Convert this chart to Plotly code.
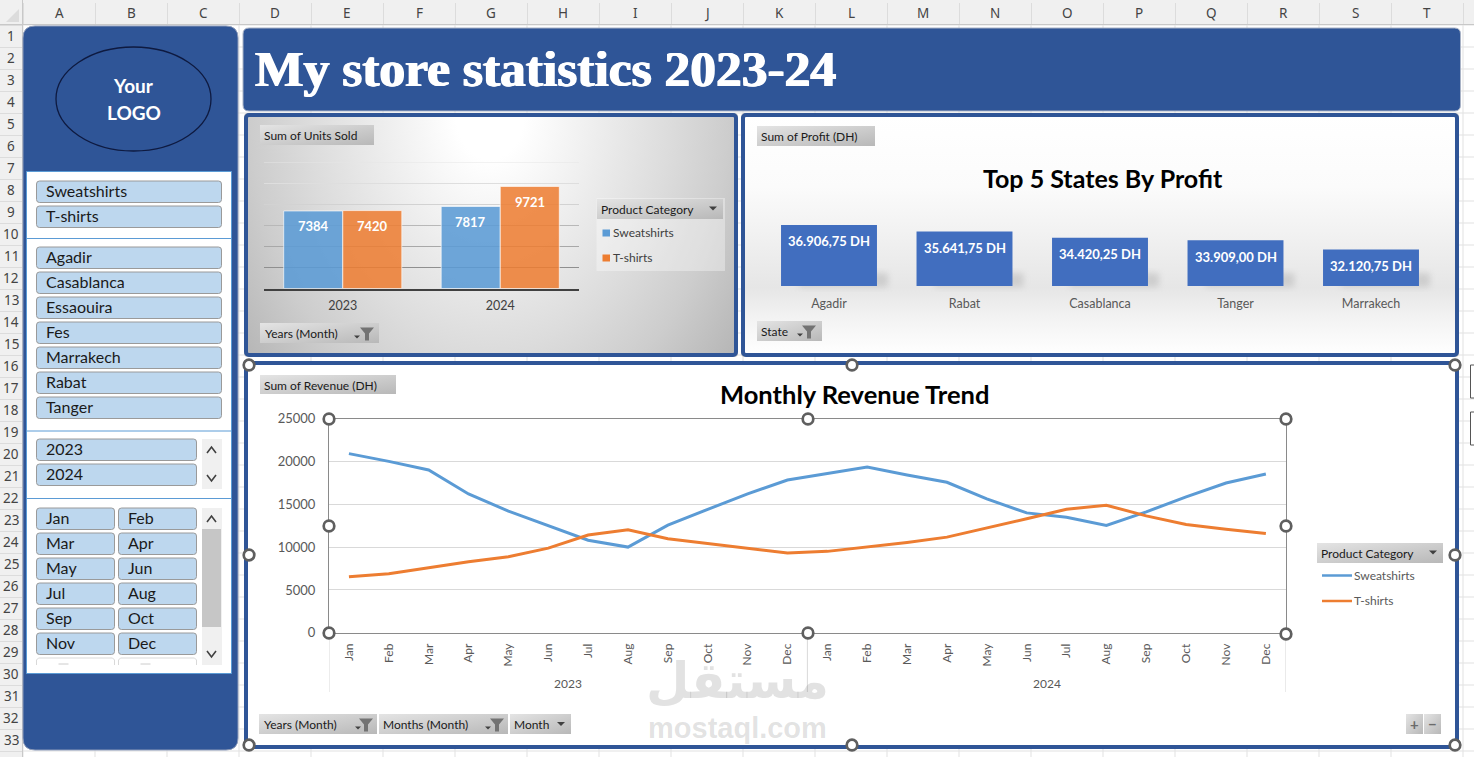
import base64
import plotly.graph_objects as go

# ---------- data ----------
years = ["2023", "2024"]
categories = ["Sweatshirts", "T-shirts"]
units_sweatshirts = [7384, 7817]
units_tshirts = [7420, 9721]

states = ["Agadir", "Rabat", "Casablanca", "Tanger", "Marrakech"]
profit = [36906.75, 35641.75, 34420.25, 33909.00, 32120.75]
profit_labels = ["36.906,75 DH", "35.641,75 DH", "34.420,25 DH", "33.909,00 DH", "32.120,75 DH"]

months = ["Jan", "Feb", "Mar", "Apr", "May", "Jun", "Jul", "Aug", "Sep", "Oct", "Nov", "Dec"]
revenue_sweatshirts = [20900, 20000, 19000, 16200, 14200, 12500, 10800, 10000, 12560, 14400, 16200, 17830,
                       18570, 19340, 18410, 17560, 15620, 13990, 13490, 12520, 14110, 15850, 17480, 18530]
revenue_tshirts = [6550, 6900, 7600, 8290, 8880, 9880, 11400, 12020, 10970, 10390, 9880, 9300,
                   9500, 10000, 10540, 11160, 12210, 13300, 14420, 14880, 13640, 12640, 12090, 11590]

slicer_products = ["Sweatshirts", "T-shirts"]
slicer_states = ["Agadir", "Casablanca", "Essaouira", "Fes", "Marrakech", "Rabat", "Tanger"]
column_letters = list("ABCDEFGHIJKLMNOPQRST")

# ---------- canvas helpers (pixel space) ----------
W, H = 1474, 757
NAVY = "#2F5597"
BLUE = "#5B9BD5"
ORANGE = "#ED7D31"
FONT = "Lato"


def px(x):
    return x / W


def py(y):
    return 1 - y / H


shapes = []
annotations = []


def rrect_path(x0, y0, x1, y1, r):
    X0, X1, Y0, Y1 = px(x0), px(x1), py(y0), py(y1)
    rx, ry = r / W, r / H
    return (f"M{X0+rx},{Y0} L{X1-rx},{Y0} Q{X1},{Y0} {X1},{Y0-ry} L{X1},{Y1+ry} Q{X1},{Y1} {X1-rx},{Y1} "
            f"L{X0+rx},{Y1} Q{X0},{Y1} {X0},{Y1+ry} L{X0},{Y0-ry} Q{X0},{Y0} {X0+rx},{Y0} Z")


def rrect(x0, y0, x1, y1, r, fill, line=None, lw=1, layer="below"):
    shapes.append(dict(type="path", xref="paper", yref="paper", path=rrect_path(x0, y0, x1, y1, r),
                       fillcolor=fill, line=dict(color=line or "rgba(0,0,0,0)", width=lw if line else 0), layer=layer))


def rect(x0, y0, x1, y1, fill, line=None, lw=1, layer="below"):
    shapes.append(dict(type="rect", xref="paper", yref="paper", x0=px(x0), x1=px(x1), y0=py(y0), y1=py(y1),
                       fillcolor=fill, line=dict(color=line or "rgba(0,0,0,0)", width=lw if line else 0), layer=layer))


def hline(x0, x1, y, color, lw=1, layer="below"):
    shapes.append(dict(type="line", xref="paper", yref="paper", x0=px(x0), x1=px(x1), y0=py(y), y1=py(y),
                       line=dict(color=color, width=lw), layer=layer))


def poly(points, fill=None, line=None, lw=1, layer="below", close=True):
    d = "M" + " L".join(f"{px(a)},{py(b)}" for a, b in points) + (" Z" if close else "")
    shapes.append(dict(type="path", xref="paper", yref="paper", path=d, fillcolor=fill or "rgba(0,0,0,0)",
                       line=dict(color=line or "rgba(0,0,0,0)", width=lw if line else 0), layer=layer))


def circle(cx, cy, rx, ry, fill, line, lw, layer="below"):
    shapes.append(dict(type="circle", xref="paper", yref="paper", x0=px(cx - rx), x1=px(cx + rx),
                       y0=py(cy - ry), y1=py(cy + ry), fillcolor=fill, line=dict(color=line, width=lw), layer=layer))


def text(s, x, y, size=12, color="#404040", anchor="left", font=FONT, bold=False, angle=0, shadow=None):
    f = dict(family=font, size=size, color=color)
    if shadow:
        f["shadow"] = shadow
    annotations.append(dict(text=f"<b>{s}</b>" if bold else s, x=px(x), y=py(y), xref="paper", yref="paper",
                            xanchor=anchor, yanchor="middle", showarrow=False, textangle=angle, borderpad=0, borderwidth=0,
                            font=f))


# ---------- background picture: sheet grid, panel fills, field buttons ----------
svg = [f'<svg xmlns="http://www.w3.org/2000/svg" width="{W}" height="{H}" viewBox="0 0 {W} {H}">',
       '<defs>',
       '<radialGradient id="p1" gradientUnits="userSpaceOnUse" cx="0" cy="0" r="340" '
       'gradientTransform="translate(490 115) scale(1 1.3)">'
       '<stop offset="0.1" stop-color="#ffffff"/><stop offset="0.53" stop-color="#dcdcdc"/>'
       '<stop offset="0.7" stop-color="#cdcdcd"/><stop offset="0.88" stop-color="#b8b8b8"/>'
       '<stop offset="1" stop-color="#b0b0b0"/></radialGradient>',
       '<linearGradient id="p2" x1="0" y1="0" x2="0" y2="1">'
       '<stop offset="0" stop-color="#ffffff"/><stop offset="0.3" stop-color="#fbfbfb"/>'
       '<stop offset="0.72" stop-color="#e6e6e6"/><stop offset="0.86" stop-color="#f4f4f4"/>'
       '<stop offset="1" stop-color="#ffffff"/></linearGradient>',
       '<linearGradient id="fb" x1="0" y1="0" x2="1" y2="1">'
       '<stop offset="0" stop-color="#e4e4e4"/><stop offset="1" stop-color="#b8b8b8"/></linearGradient>',
       '<filter id="blur" x="-30%" y="-30%" width="160%" height="160%"><feGaussianBlur stdDeviation="3"/></filter>',
       '</defs>',
       f'<rect width="{W}" height="{H}" fill="#ffffff"/>']
for i in range(0, 22):
    svg.append(f'<rect x="{23 + i * 72 - 0.5}" y="25" width="1" height="{H}" fill="#e1e1e1"/>')
for j in range(0, 34):
    svg.append(f'<rect x="23" y="{25 + j * 22 - 0.5}" width="{W}" height="1" fill="#e1e1e1"/>')
svg.append(f'<rect width="{W}" height="25" fill="#f0f0f0"/><rect width="23" height="{H}" fill="#f0f0f0"/>')
svg.append(f'<rect y="24" width="{W}" height="1" fill="#c8c8c8"/><rect x="22" width="1" height="{H}" fill="#c8c8c8"/>')
for i in range(0, 21):
    svg.append(f'<rect x="{23 + i * 72}" y="3" width="1" height="21" fill="#dcdcdc"/>')
for j in range(0, 34):
    svg.append(f'<rect x="0" y="{25 + j * 22}" width="22" height="1" fill="#dcdcdc"/>')
svg.append('<polygon points="6,22 19,22 19,9" fill="#dcdcdc"/>')


def panel(x0, y0, x1, y1, fill):
    svg.append(f'<rect x="{x0-2}" y="{y0-2}" width="{x1-x0+4}" height="{y1-y0+4}" rx="4" fill="#bdbdbd"/>')
    svg.append(f'<rect x="{x0}" y="{y0}" width="{x1-x0}" height="{y1-y0}" rx="3" fill="{fill}" stroke="{NAVY}" stroke-width="4"/>')


panel(246, 115, 736, 355, "url(#p1)")
panel(743, 115, 1457, 355, "url(#p2)")
panel(246, 363, 1457, 747, "#ffffff")

# soft shadows at the foot of the profit bars
P2_LEFT, P2_RIGHT, P2_BASE = 761.25, 1438.75, 286
step = (P2_RIGHT - P2_LEFT) / len(states)
for i in range(len(states)):
    c = P2_LEFT + (i + 0.5) * step
    svg.append(f'<rect x="{c-30}" y="273" width="{48+30+11}" height="{P2_BASE-273+1}" fill="#a8a8a8" opacity="0.4" filter="url(#blur)"/>')

# translucent legend box of first chart
svg.append('<rect x="596.5" y="198" width="128.5" height="73" fill="#ffffff" opacity="0.35"/>')


def field_button(x0, y0, x1, y1):
    svg.append(f'<rect x="{x0}" y="{y0}" width="{x1-x0}" height="{y1-y0}" fill="url(#fb)"/>')


for b in [(260, 125, 374, 145), (260, 323, 379, 343), (597, 199, 723, 219),
          (757, 126, 875, 146), (757, 321, 822, 341),
          (260, 375, 396, 394), (259, 714, 377, 734), (379, 714, 508, 734), (510, 714, 571, 734),
          (1317, 543, 1443, 563), (1406, 714, 1423, 734), (1424, 714, 1441, 734)]:
    field_button(*b)
svg.append('</svg>')
bg_uri = "data:image/svg+xml;base64," + base64.b64encode("".join(svg).encode()).decode()

# ---------- sheet headers ----------
for i, c in enumerate(column_letters):
    text(c, 59 + i * 72, 13, 13.5, "#444444", "center", "Noto Sans")
for j in range(33):
    text(str(j + 1), 11, 36 + j * 22, 13.5, "#444444", "center", "Noto Sans")

# chart-element buttons cut at the window edge
for y0, y1 in [(365, 398), (412, 445)]:
    poly([(1476, y0), (1470.5, y0), (1470.5, y1), (1476, y1)], "#ffffff", "#555555", 1)

# ---------- left side bar ----------
rrect(23, 26, 238, 750, 12, NAVY, "#8c9ab8", 1)
circle(133.5, 99, 77.5, 52, "rgba(0,0,0,0)", "#0e1a40", 1.3)
text("Your", 133.5, 86, 19, "#ffffff", "center", bold=True)
text("LOGO", 133.5, 112, 19, "#ffffff", "center", bold=True)
rect(26.5, 171.5, 231.5, 673.5, "#ffffff", BLUE, 1)
for y in (238.5, 431, 498.5):
    hline(26.5, 231.5, y, BLUE, 1)


def slicer_item(label, x0, y0, x1):
    rrect(x0, y0, x1, y0 + 21.5, 3, "#BDD7EE", "#9a9a9a", 1)
    text(label, x0 + 9.5, y0 + 9.8, 16, "#1a1a1a")


for i, s in enumerate(slicer_products):
    slicer_item(s, 36.5, 181 + i * 25, 221.5)
for i, s in enumerate(slicer_states):
    slicer_item(s, 36.5, 247 + i * 25, 221.5)
for i, s in enumerate(years):
    slicer_item(s, 36.5, 439 + i * 25, 196.5)
for i, s in enumerate(months):
    slicer_item(s, 36.5 + (i % 2) * 82, 508 + (i // 2) * 25, 114.5 + (i % 2) * 82)
# clipped next row of the month slicer
for x0, x1 in [(36.5, 114.5), (118.5, 196.5)]:
    poly([(x0, 665), (x0, 660), (x0 + 2, 658), (x1 - 2, 658), (x1, 660), (x1, 665)], "#ffffff", "#d9d9d9", 1, close=False)
    hline(x0 + 22, x0 + 32, 664, "#cccccc", 1)


def chevron(cx, cy, up=True):
    d = -3 if up else 3
    poly([(cx - 4.5, cy - d), (cx, cy + d), (cx + 4.5, cy - d)], None, "#404040", 1.6, close=False)


rect(202, 439, 222, 489, "#f0f0f0")
chevron(211.5, 450, True)
chevron(211.5, 478, False)
rect(202, 508, 222, 665, "#f0f0f0")
rect(202, 529, 221, 627, "#c6c6c6")
chevron(211.5, 519, True)
chevron(211.5, 654, False)

# ---------- title bar ----------
rrect(243, 28, 1460.5, 111, 6, NAVY, "#a9b3c6", 1)
text("My store statistics 2023-24", 255, 69, 51.5, "#ffffff", "left", "Liberation Serif", bold=True,
     shadow="0.8px 0 0 #ffffff, -0.8px 0 0 #ffffff")


# ---------- small pivot-chart furniture ----------
def drop(cx, cy):
    poly([(cx - 4, cy - 2), (cx + 4, cy - 2), (cx, cy + 2)], "#404040")


def funnel(cx, cy):
    poly([(cx - 7, cy - 6), (cx + 7, cy - 6), (cx + 2, cy), (cx + 2, cy + 7), (cx - 2, cy + 7), (cx - 2, cy)], "#737373")


def small_drop(cx, cy):
    poly([(cx - 3, cy - 1.5), (cx + 3, cy - 1.5), (cx, cy + 1.5)], "#404040")


text("Sum of Units Sold", 264, 135.5, 12, "#1a1a1a")
text("Years (Month)", 265, 333.5, 12, "#1a1a1a")
small_drop(357, 337); funnel(367, 333.5)
text("Product Category", 601, 209.5, 12, "#1a1a1a")
drop(713, 208.5)
rect(602.5, 229.5, 610, 236.5, BLUE)
rect(602.5, 254.5, 610, 261.5, ORANGE)
text("Sweatshirts", 613, 232.5, 12, "#404040")
text("T-shirts", 613, 257.5, 12, "#404040")

text("Sum of Profit (DH)", 761, 136.5, 12, "#1a1a1a")
text("State", 761, 331.5, 12, "#1a1a1a")
small_drop(800, 335); funnel(809, 331.5)
text("Top 5 States By Profit", 1103, 178, 25, "#000000", "center", bold=True)

text("Sum of Revenue (DH)", 264, 385, 12, "#1a1a1a")
text("Monthly Revenue Trend", 854, 394.5, 25.5, "#000000", "center", bold=True)
text("Years (Month)", 264, 724.5, 12, "#1a1a1a")
small_drop(358, 728); funnel(366, 724.5)
text("Months (Month)", 383, 724.5, 12, "#1a1a1a")
small_drop(488, 728); funnel(497, 724.5)
text("Month", 514, 724.5, 12, "#1a1a1a")
drop(561, 724)
text("Product Category", 1321, 553.5, 12, "#1a1a1a")
drop(1433, 552.5)
hline(1322, 1352, 575.5, BLUE, 2.5)
hline(1322, 1352, 601, ORANGE, 2.5)
text("Sweatshirts", 1354, 575.5, 12, "#595959")
text("T-shirts", 1354, 600.5, 12, "#595959")
text("+", 1414.5, 723.5, 15, "#6b6b6b", "center", bold=True)
text("\u2212", 1432.5, 723.5, 15, "#6b6b6b", "center", bold=True)

# ---------- figure ----------
fig = go.Figure()

# chart 1 : units
BAR_W = 0.375
fig.add_trace(go.Bar(name=categories[0], x=years, y=units_sweatshirts, xaxis="x", yaxis="y", width=BAR_W, offset=-BAR_W,
                     marker=dict(color="rgba(91,155,213,0.88)", line=dict(color="rgba(255,255,255,0.65)", width=1))))
fig.add_trace(go.Bar(name=categories[1], x=years, y=units_tshirts, xaxis="x", yaxis="y", width=BAR_W, offset=0,
                     marker=dict(color="rgba(237,125,49,0.86)", line=dict(color="rgba(255,255,255,0.65)", width=1))))
grid_shades = {2000: "#8f8f8f", 4000: "#a8a8a8", 6000: "#b8b8b8", 8000: "#d2d2d2", 10000: "#dedede", 12000: "#e6e6e6"}
for v, c in grid_shades.items():
    shapes.append(dict(type="line", xref="x domain", yref="y", x0=0, x1=1, y0=v, y1=v, line=dict(color=c, width=1), layer="below"))
for i, yr in enumerate(years):
    for off, vals in ((-BAR_W / 2, units_sweatshirts), (BAR_W / 2, units_tshirts)):
        annotations.append(dict(text=f"<b>{vals[i]}</b>", x=i + off, y=vals[i], xref="x", yref="y", yshift=-15.5,
                                xanchor="center", yanchor="middle", showarrow=False,
                                font=dict(family=FONT, size=13, color="#ffffff")))

# chart 2 : profit
fig.add_trace(go.Bar(name="Profit", x=states, y=profit, xaxis="x2", yaxis="y2", marker=dict(color="#416EBF", line=dict(width=0))))
for i, s in enumerate(states):
    annotations.append(dict(text=f"<b>{profit_labels[i]}</b>", x=i, y=profit[i], xref="x2", yref="y2", yshift=-16.5,
                            xanchor="center", yanchor="middle", showarrow=False,
                            font=dict(family=FONT, size=13, color="#ffffff")))

# chart 3 : revenue
xpos = list(range(24))
fig.add_trace(go.Scatter(name=categories[0], x=xpos, y=revenue_sweatshirts, mode="lines", xaxis="x3", yaxis="y3",
                         line=dict(color=BLUE, width=3)))
fig.add_trace(go.Scatter(name=categories[1], x=xpos, y=revenue_tshirts, mode="lines", xaxis="x3", yaxis="y3",
                         line=dict(color=ORANGE, width=3)))
for x in (-0.5, 11.5, 23.5):
    shapes.append(dict(type="line", xref="x3", yref="paper", x0=x, x1=x, y0=py(633), y1=py(692),
                       line=dict(color="#d9d9d9", width=1), layer="below"))
for c, yr in zip((5.5, 17.5), years):
    annotations.append(dict(text=yr, x=c, y=py(683.5), xref="x3", yref="paper", xanchor="center", yanchor="middle",
                            showarrow=False, font=dict(family=FONT, size=12, color="#595959")))

# selection handles
for (cx, cy) in [(852, 365), (1455, 365), (1455, 555), (1455, 745), (852, 745), (249, 745), (249, 555), (249, 365),
                 (329, 419), (808, 419), (1286, 419), (329, 526), (1286, 526), (329, 633), (808, 633), (1286, 634)]:
    circle(cx, cy, 5.3, 5.3, "#ffffff", "#5f5f5f", 2.7, layer="above")

# watermark
text("\u0645\u0633\u062a\u0642\u0644", 737, 681, 50, "rgba(110,110,110,0.2)", "center", "DejaVu Sans", bold=True)
text("mostaql.com", 737, 728, 29, "rgba(110,110,110,0.2)", "center", "Liberation Sans", bold=True)

fig.update_layout(
    width=W, height=H, autosize=False, margin=dict(l=0, r=0, t=0, b=0, pad=0),
    paper_bgcolor="#ffffff", plot_bgcolor="rgba(0,0,0,0)", showlegend=False,
    barmode="group", bargap=0.292, bargroupgap=0,
    shapes=shapes, annotations=annotations,
    images=[dict(source=bg_uri, xref="paper", yref="paper", x=0, y=1, sizex=1, sizey=1, xanchor="left", yanchor="top",
                 sizing="stretch", layer="below")],
    # chart 1
    xaxis=dict(domain=[px(264), px(579)], anchor="y", automargin=False, showgrid=False, showline=True, linecolor="#404040", linewidth=2,
               ticks="outside", ticklen=4, tickcolor="rgba(0,0,0,0)", tickfont=dict(family=FONT, size=12.5, color="#404040"), zeroline=False),
    yaxis=dict(domain=[py(288.5), py(162.5)], anchor="x", automargin=False, range=[0, 12000], showgrid=False, showticklabels=False, zeroline=False, ticks=""),
    # chart 2
    xaxis2=dict(domain=[px(P2_LEFT), px(P2_RIGHT)], anchor="y2", automargin=False, showgrid=False, showline=False,
                ticks="outside", ticklen=6, tickcolor="rgba(0,0,0,0)", tickfont=dict(family=FONT, size=12.5, color="#595959"), zeroline=False),
    yaxis2=dict(domain=[py(286), py(204)], anchor="x2", automargin=False, range=[25000, 41000], showgrid=False, showticklabels=False, zeroline=False, ticks=""),
    # chart 3
    xaxis3=dict(domain=[px(329), px(1285.8)], anchor="y3", automargin=False, range=[-0.5, 23.5], showgrid=False, showline=True, linecolor="#8a8a8a", linewidth=1,
                mirror=True, tickmode="array", tickvals=xpos, ticktext=months + months, tickangle=-90,
                ticks="outside", ticklen=5, tickcolor="rgba(0,0,0,0)", tickfont=dict(family=FONT, size=12, color="#595959"), zeroline=False),
    yaxis3=dict(domain=[py(632.8), py(418.5)], anchor="x3", automargin=False, range=[0, 25000], dtick=5000, tickformat="d", showgrid=True, gridcolor="#d9d9d9", gridwidth=1,
                showline=True, linecolor="#8a8a8a", linewidth=1, mirror=True, zeroline=False,
                ticks="outside", ticklen=10, tickcolor="rgba(0,0,0,0)", tickfont=dict(family=FONT, size=13, color="#595959")),
)

fig.write_html("out.html", config=dict(displayModeBar=False),
               post_script="document.body.style.margin='0';document.body.style.overflow='hidden';")
